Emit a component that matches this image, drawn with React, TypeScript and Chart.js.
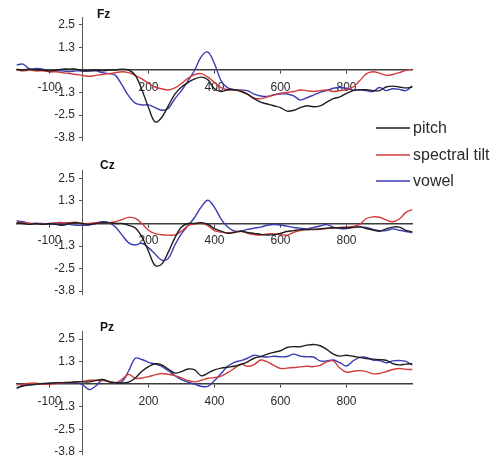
import React, { useEffect, useRef } from "react";
import { Chart, registerables } from "chart.js";

Chart.register(...registerables);

// ---------- data ----------
const TIME_MS = [
  -200, -180, -160, -140, -120, -100, -80, -60, -40, -20,
  0, 20, 40, 60, 80, 100, 120, 140, 160, 180,
  200, 220, 240, 260, 280, 300, 320, 340, 360, 380,
  400, 420, 440, 460, 480, 500, 520, 540, 560, 580,
  600, 620, 640, 660, 680, 700, 720, 740, 760, 780,
  800, 820, 840, 860, 880, 900, 920, 940, 960, 980, 1000,
];

const FZ_PITCH = [
  0.05, 0.0, 0.05, 0.0, 0.0, -0.05, 0.0, 0.05, 0.05, 0.05,
  -0.05, -0.05, 0.0, -0.05, 0.0, 0.0, 0.05, 0.0, -0.3, -1.1,
  -2.1, -2.9, -2.65, -2.0, -1.35, -0.95, -0.7, -0.5, -0.4, -0.55,
  -1.05, -1.2, -1.1, -1.1, -1.2, -1.35, -1.6, -1.8, -1.9, -2.0,
  -2.1, -2.3, -2.25, -2.1, -2.0, -2.05, -2.0, -1.8, -1.6, -1.5,
  -1.3, -1.15, -1.1, -1.1, -1.15, -1.15, -0.95, -0.9, -0.95, -1.0, -0.95,
];
const FZ_SPECTRAL_TILT = [
  0.0, -0.05, 0.0, -0.05, -0.05, -0.1, -0.1, -0.15, -0.2, -0.25,
  -0.3, -0.35, -0.3, -0.25, -0.2, -0.15, -0.1, -0.15, -0.3, -0.5,
  -0.75, -0.95, -1.05, -1.12, -1.0, -0.75, -0.45, -0.25, -0.2, -0.4,
  -0.7, -0.98, -1.1, -1.12, -1.15, -1.35, -1.58, -1.6, -1.5, -1.4,
  -1.3, -1.25, -1.2, -1.12, -1.15, -1.2, -1.15, -1.12, -1.2, -1.15,
  -1.1, -0.95, -0.6, -0.22, -0.1, -0.18, -0.3, -0.25, -0.15, -0.02, 0.04,
];
const FZ_VOWEL = [
  0.28, 0.33, 0.05, 0.08, 0.05, -0.1, -0.05, -0.05, -0.1, -0.05,
  -0.05, -0.05, -0.05, -0.15, -0.2, -0.3, -0.85, -1.45, -1.85, -1.95,
  -1.95, -2.1, -2.25, -2.15, -1.6, -1.15, -0.6, 0.0, 0.75, 1.0,
  0.35, -0.6, -1.0, -1.1, -1.12, -1.15, -1.35, -1.45, -1.48, -1.38,
  -1.34, -1.34, -1.45, -1.68, -1.55, -1.4, -1.25, -1.15, -1.02, -0.98,
  -1.02, -1.12, -1.1, -1.15, -1.2, -0.98, -1.15, -1.05, -1.08, -1.15, -0.88,
];

const CZ_PITCH = [
  0.05, 0.0, -0.05, 0.0, -0.05, 0.0, -0.05, -0.1, 0.0, 0.05,
  0.0, -0.05, 0.0, 0.05, 0.05, 0.0, 0.0, -0.1, -0.25, -0.75,
  -1.55, -2.35, -2.27, -1.6, -0.8, -0.2, 0.0, 0.0, 0.05, -0.05,
  -0.28, -0.43, -0.55, -0.5, -0.43, -0.5, -0.55, -0.61, -0.64, -0.62,
  -0.55, -0.45, -0.4, -0.34, -0.34, -0.32, -0.3, -0.26, -0.24, -0.24,
  -0.24, -0.22, -0.19, -0.28, -0.36, -0.43, -0.3, -0.2, -0.2, -0.38, -0.47,
];
const CZ_SPECTRAL_TILT = [
  0.1, 0.05, 0.0, 0.0, -0.05, 0.0, 0.05, 0.05, 0.05, 0.07,
  0.0, 0.0, 0.05, 0.05, 0.05, 0.1, 0.22, 0.34, 0.28, 0.0,
  -0.38, -0.57, -0.63, -0.65, -0.64, -0.42, -0.12, -0.03, 0.03, -0.12,
  -0.4, -0.48, -0.52, -0.48, -0.44, -0.55, -0.62, -0.65, -0.58, -0.58,
  -0.62, -0.65, -0.5, -0.4, -0.34, -0.34, -0.32, -0.28, -0.25, -0.22,
  -0.2, -0.17, -0.05, 0.28, 0.37, 0.35, 0.2, 0.1, 0.25, 0.62, 0.78,
];
const CZ_VOWEL = [
  0.15, 0.1, 0.0, 0.0, 0.0, -0.05, 0.0, -0.05, -0.05, -0.1,
  -0.1, -0.08, 0.0, 0.1, 0.05, -0.2, -0.65, -1.08, -1.2, -1.1,
  -1.35, -1.7, -2.05, -1.95, -1.2, -0.56, -0.12, 0.35, 0.93, 1.3,
  0.9, 0.25, -0.2, -0.42, -0.42, -0.33, -0.26, -0.2, -0.1, -0.06,
  -0.08, -0.15, -0.22, -0.26, -0.3, -0.22, -0.14, -0.06, -0.2, -0.28,
  -0.28, -0.2, -0.19, -0.22, -0.33, -0.4, -0.4, -0.3, -0.38, -0.45, -0.52,
];

const PZ_PITCH = [
  -0.2, -0.1, -0.05, 0.0, 0.04, 0.05, 0.08, 0.09, 0.1, 0.13,
  0.13, 0.13, 0.2, 0.26, 0.14, 0.08, 0.07, 0.12, 0.35, 0.72,
  0.98, 1.14, 1.08, 0.85, 0.62, 0.7, 0.85, 0.8, 0.47, 0.62,
  0.8, 0.9, 0.95, 1.0, 1.1, 1.25, 1.45, 1.55, 1.68, 1.78,
  1.87, 2.05, 2.1, 2.09, 2.18, 2.22, 2.15, 1.95, 1.68, 1.57,
  1.62, 1.56, 1.5, 1.43, 1.4, 1.37, 1.34, 1.15, 1.08, 1.12, 1.15,
];
const PZ_SPECTRAL_TILT = [
  -0.05, 0.0, 0.05, 0.05, 0.0, 0.0, 0.05, 0.07, 0.1, 0.13,
  0.16, 0.22, 0.22, 0.2, 0.15, 0.08, 0.28, 0.55, 0.33, 0.35,
  0.42, 0.52, 0.6, 0.55, 0.48, 0.35, 0.2, 0.13, 0.22, 0.33,
  0.37, 0.45, 0.65, 0.88, 1.12, 1.0, 1.1, 1.35, 1.25, 1.05,
  0.88, 0.9, 0.93, 0.97, 1.0, 0.98, 1.05, 1.25, 1.3, 0.9,
  0.67, 0.72, 0.76, 0.7, 0.58, 0.6, 0.7, 0.82, 0.88, 0.83, 0.82,
];
const PZ_VOWEL = [
  -0.25, -0.05, 0.0, 0.03, 0.03, 0.05, 0.06, 0.07, 0.08, 0.09,
  -0.03, -0.3, -0.1, 0.24, 0.15, 0.08, 0.15, 0.75, 1.45, 1.38,
  1.22, 1.13, 1.0, 0.75, 0.48, 0.26, 0.12, 0.0, -0.12, -0.12,
  0.2, 0.6, 1.0, 1.22, 1.32, 1.45, 1.62, 1.55, 1.52, 1.56,
  1.53, 1.55, 1.68, 1.57, 1.53, 1.52, 1.3, 1.3, 1.35, 1.2,
  1.02, 1.3, 1.5, 1.5, 1.35, 1.32, 1.2, 1.3, 1.32, 1.28, 1.06,
];

const SERIES_NAMES = ["pitch", "spectral tilt", "vowel"];
const PANEL_TITLES = ["Fz", "Cz", "Pz"];
const PANEL_SERIES = [
  [FZ_PITCH, FZ_SPECTRAL_TILT, FZ_VOWEL],
  [CZ_PITCH, CZ_SPECTRAL_TILT, CZ_VOWEL],
  [PZ_PITCH, PZ_SPECTRAL_TILT, PZ_VOWEL],
];
const X_TICKS = [-100, 200, 400, 600, 800];
const Y_TICKS = [-3.78, -2.52, -1.26, 1.26, 2.52];
const X_MIN = -200;
const X_MAX = 1000;
const Y_MIN = -3.95;
const Y_MAX = 2.95;

// ---------- style / layout ----------
const W = 491;
const H = 459;
const SERIES_COLORS = ["#1e1e1e", "#d23c3c", "#3a3cb4"];
const AXIS_COLOR = "#3c3c3c";
const TEXT_COLOR = "#2a2a2a";
const FONT_FAMILY = "'Liberation Sans', Arial, Helvetica, sans-serif";
const PLOT_LEFT = 16.5;
const PLOT_RIGHT = 412.5;
const PANEL_BOXES = [
  { top: 17.2, bottom: 140.7, titleX: 97, titleY: 15 },
  { top: 170.7, bottom: 294.2, titleX: 100, titleY: 166 },
  { top: 331.4, bottom: 454.9, titleX: 100, titleY: 327.5 },
];
const Y_LABEL_GAP = 7.5;
const LEGEND_Y = [128, 155, 181];
const LEGEND_LINE_X0 = 376;
const LEGEND_LINE_X1 = 410;
const LEGEND_TEXT_X = 413;

const yLabelShiftPlugin = {
  id: "yLabelShift",
  beforeDraw(chart: any) {
    const ys = chart.scales.y;
    const xs = chart.scales.x;
    const axisX = xs.getPixelForValue(0);
    const items = ys.getLabelItems(chart.chartArea);
    items.forEach((it: any) => {
      it.options.translation[0] = axisX - Y_LABEL_GAP;
      it.options.textAlign = "right";
    });
  },
};

const panelTitlePlugin = {
  id: "panelTitle",
  afterDraw(chart: any, _args: any, opts: any) {
    if (!opts || !opts.text) return;
    const ctx = chart.ctx;
    ctx.save();
    ctx.font = `bold 12px ${FONT_FAMILY}`;
    ctx.fillStyle = "#111";
    ctx.textAlign = "left";
    ctx.textBaseline = "middle";
    ctx.fillText(opts.text, opts.x, opts.y);
    ctx.restore();
  },
};

const sideLegendPlugin = {
  id: "sideLegend",
  afterDraw(chart: any, _args: any, opts: any) {
    if (!opts || !opts.show) return;
    const ctx = chart.ctx;
    ctx.save();
    ctx.font = `16px ${FONT_FAMILY}`;
    ctx.textAlign = "left";
    ctx.textBaseline = "middle";
    chart.data.datasets.forEach((ds: any, i: number) => {
      const y = LEGEND_Y[i];
      ctx.strokeStyle = ds.borderColor;
      ctx.lineWidth = 1.5;
      ctx.beginPath();
      ctx.moveTo(LEGEND_LINE_X0, y);
      ctx.lineTo(LEGEND_LINE_X1, y);
      ctx.stroke();
      ctx.fillStyle = TEXT_COLOR;
      ctx.fillText(ds.label, LEGEND_TEXT_X, y + 1);
    });
    ctx.restore();
  },
};

function buildConfig(panel: number): any {
  const box = PANEL_BOXES[panel];
  const series = PANEL_SERIES[panel];
  const tickFont = { family: FONT_FAMILY, size: 12 };
  return {
    type: "line",
    data: {
      datasets: SERIES_NAMES.map((name, i) => ({
        label: name,
        data: TIME_MS.map((t, j) => ({ x: t, y: series[i][j] })),
        borderColor: SERIES_COLORS[i],
        backgroundColor: SERIES_COLORS[i],
        borderWidth: 1.4,
        pointRadius: 0,
        tension: 0.35,
        fill: false,
      })),
    },
    options: {
      responsive: false,
      animation: false,
      devicePixelRatio: 1,
      events: [],
      layout: {
        padding: {
          left: PLOT_LEFT,
          right: W - PLOT_RIGHT,
          top: box.top,
          bottom: H - box.bottom,
        },
      },
      scales: {
        x: {
          type: "linear",
          position: { y: 0 },
          min: X_MIN,
          max: X_MAX,
          afterBuildTicks: (s: any) => {
            s.ticks = X_TICKS.map((v) => ({ value: v }));
          },
          afterFit: (s: any) => {
            s.paddingLeft = 0;
            s.paddingRight = 0;
            s.paddingTop = 0;
            s.paddingBottom = 0;
          },
          grid: {
            display: true,
            drawOnChartArea: false,
            drawTicks: true,
            tickLength: 3,
            color: AXIS_COLOR,
          },
          border: { display: true, color: AXIS_COLOR, width: 1.6 },
          ticks: {
            autoSkip: false,
            maxRotation: 0,
            padding: 7,
            font: tickFont,
            color: TEXT_COLOR,
            callback: (v: any) => String(v),
          },
        },
        y: {
          type: "linear",
          position: { x: 0 },
          min: Y_MIN,
          max: Y_MAX,
          afterBuildTicks: (s: any) => {
            s.ticks = Y_TICKS.map((v) => ({ value: v }));
          },
          afterFit: (s: any) => {
            s.paddingLeft = 0;
            s.paddingRight = 0;
            s.paddingTop = 0;
            s.paddingBottom = 0;
          },
          grid: {
            display: true,
            drawOnChartArea: false,
            drawTicks: true,
            tickLength: 3,
            color: "#555",
          },
          border: { display: true, color: "#555", width: 1 },
          ticks: {
            autoSkip: false,
            font: tickFont,
            color: TEXT_COLOR,
            callback: (v: any) => Number(v).toFixed(1),
          },
        },
      },
      plugins: {
        legend: { display: false },
        tooltip: { enabled: false },
        title: { display: false },
        panelTitle: { text: PANEL_TITLES[panel], x: box.titleX, y: box.titleY },
        sideLegend: { show: panel === 0 },
      },
    },
    plugins: [yLabelShiftPlugin, panelTitlePlugin, sideLegendPlugin],
  };
}

function Panel({ index }: { index: number }) {
  const ref = useRef<HTMLCanvasElement | null>(null);
  useEffect(() => {
    if (!ref.current) return;
    const chart = new Chart(ref.current, buildConfig(index));
    return () => chart.destroy();
  }, [index]);
  return (
    <canvas
      ref={ref}
      width={W}
      height={H}
      style={{ position: "absolute", left: 0, top: 0, width: W, height: H }}
    />
  );
}

export default function App() {
  return (
    <div
      style={{
        position: "absolute",
        left: 0,
        top: 0,
        width: W,
        height: H,
        background: "#ffffff",
        overflow: "hidden",
      }}
    >
      {PANEL_TITLES.map((_, i) => (
        <Panel key={i} index={i} />
      ))}
    </div>
  );
}
